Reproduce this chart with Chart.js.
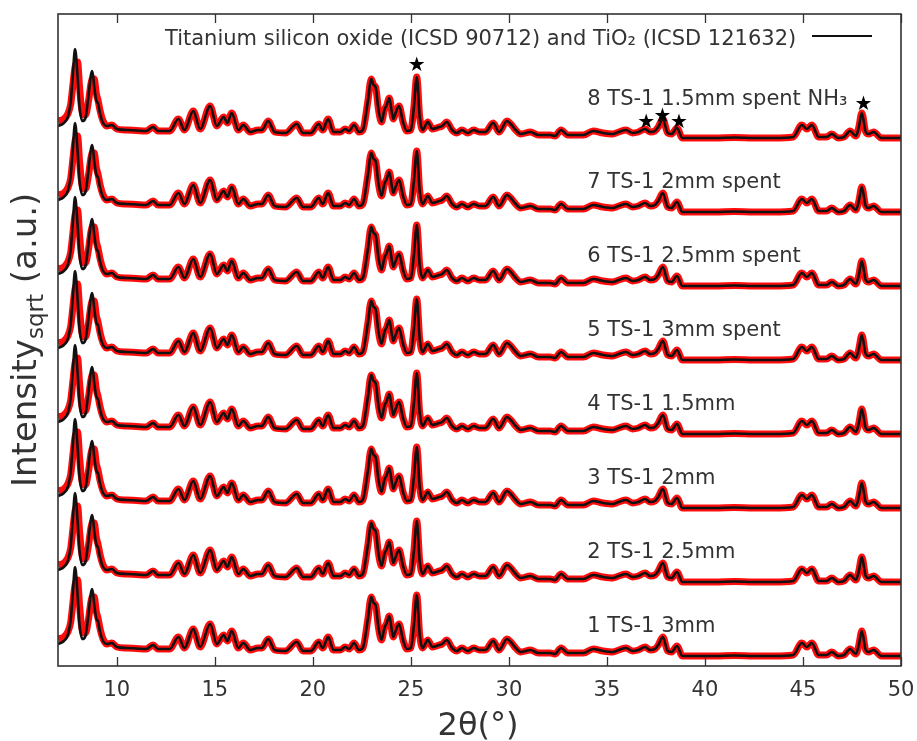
<!DOCTYPE html>
<html><head><meta charset="utf-8">
<script src="https://cdn.jsdelivr.net/npm/chart.js@4/dist/chart.umd.min.js"></script>
<style>html,body{margin:0;padding:0;background:#fff}#wrap{width:917px;height:741px;position:relative}</style>
</head><body><div id="wrap"><canvas id="c" width="917" height="741"></canvas></div>
<script>
// 2-theta grid (degrees)
const twoTheta = [7.0,7.3,7.5,7.65,7.75,7.87,8.0,8.1,8.25,8.4,8.55,8.68,8.75,8.85,8.95,9.05,9.15,9.3,
 9.5,9.75,10.0,10.5,11.0,11.5,11.85,12.1,12.7,13.14,13.45,13.9,14.25,14.76,15.1,15.45,15.64,15.86,16.2,16.45,16.8,17.2,17.4,17.72,18.05,18.6,19.18,19.5,19.9,20.3,20.5,20.78,21.05,21.4,21.65,21.85,22.1,22.35,22.55,22.8,22.98,23.1,23.2,23.35,23.5,23.65,23.77,23.9,24.1,24.2,24.4,24.6,24.8,25.0,25.15,25.3,25.45,25.6,25.86,26.1,26.45,26.6,26.83,27.1,27.35,27.6,27.9,28.2,28.5,28.8,29.2,29.5,29.9,30.1,30.3,30.6,31.1,31.5,32.1,32.35,32.66,33.0,33.4,33.8,34.3,34.8,35.3,35.6,35.98,36.3,36.6,36.95,37.2,37.45,37.62,37.85,38.1,38.3,38.57,38.85,39.5,40.5,41.5,42.5,43.5,44.5,44.94,45.2,45.45,45.8,46.2,46.47,46.8,47.1,47.4,47.7,47.85,48.0,48.2,48.35,48.6,49.0,49.5,50.0];
// observed (red) sqrt intensity, arbitrary units
const obsIntensity = [27,29,34,44,61,81,86,61,34,33,46,64,69,69,55,47,37,27,
 22,23,19,18,17.5,17,21,17,17,29,18,37,19,42,22,31,25,35,18,23,16,18,18,27,16,15,24,15,15,24,18,29,16,16,19,17,23,16,18,46,69,63,61,38,26,38,43,50,29,34,42,26,17,18,40,71,31,18,26,19,21,22,26,18,15,18,15,18,16,16,25,16,27,24,19,14,16,13,13,12,18,13,13,13,17,15,14,16,18,15,16,19,16,17,21,29,15,14,20,10,10,10,10.5,10,10,11,23,19,23,11,11,14,10,11,17,12,21,35,16,14,16,10,10,10];
// calculated fit (black) sqrt intensity, arbitrary units
const calcIntensity = [22,25,31,46,71,99,71,41,27,30,51,73,77,61,48,44,34,25,
 22,23,19,18,17.5,17,21,17,17,29,18,37,19,42,22,31,25,35,18,23,16,18,18,27,16,15,24,15,15,24,18,29,16,16,19,17,23,16,18,46,69,63,61,38,26,38,43,50,29,34,42,26,17,18,40,71,31,18,26,19,21,22,26,18,15,18,15,18,16,16,25,16,27,24,19,14,16,13,13,12,18,13,13,13,17,15,14,16,18,15,16,19,16,17,21,29,15,14,20,10,10,10,10.5,10,10,11,23,19,23,11,11,14,10,11,17,12,21,35,16,14,16,10,10,10];
// vertical stacking offset of each pattern
const traceOffsets = [0,74,148,222,296,370,444,518];
const traceNames = ['1 TS-1 3mm','2 TS-1 2.5mm','3 TS-1 2mm','4 TS-1 1.5mm','5 TS-1 3mm spent','6 TS-1 2.5mm spent','7 TS-1 2mm spent','8 TS-1 1.5mm spent NH\u2083'];
const xTicks = [10,15,20,25,30,35,40,45,50];
const legendText = 'Titanium silicon oxide (ICSD 90712) and TiO\u2082 (ICSD 121632)';
// reflection markers (2theta, height)
const starMarks = [[25.3,600],[37.0,543],[37.83,549],[38.68,543],[48.09,561]];

const FONT = "'DejaVu Sans', sans-serif";
const TXT = '#333';

const datasets = [];
traceOffsets.forEach((off, i) => {
  datasets.push({
    label: 'obs ' + traceNames[i],
    data: twoTheta.map((x, k) => ({x: x, y: obsIntensity[k] + off})),
    borderColor: 'rgba(255,0,0,0.95)', borderWidth: 7, pointRadius: 0,
    cubicInterpolationMode: 'monotone', order: 2, fill: false
  });
});
traceOffsets.forEach((off, i) => {
  datasets.push({
    label: 'calc ' + traceNames[i],
    data: twoTheta.map((x, k) => ({x: x, y: calcIntensity[k] + off})),
    borderColor: '#111', borderWidth: 2.6, pointRadius: 0,
    cubicInterpolationMode: 'monotone', order: 1, fill: false
  });
});

const deco = {
  id: 'deco',
  afterDraw(chart) {
    const ctx = chart.ctx, a = chart.chartArea, xs = chart.scales.x, ys = chart.scales.y;
    ctx.save();
    // frame
    ctx.strokeStyle = '#333'; ctx.lineWidth = 1.6;
    ctx.strokeRect(a.left, a.top, a.right - a.left, a.bottom - a.top);
    // inward ticks, bottom and top
    ctx.lineWidth = 1.3;
    xTicks.forEach(v => {
      const px = Math.round(xs.getPixelForValue(v)) + 0.5;
      ctx.beginPath();
      ctx.moveTo(px, a.bottom); ctx.lineTo(px, a.bottom - 9);
      ctx.moveTo(px, a.top); ctx.lineTo(px, a.top + 9);
      ctx.stroke();
    });
    // legend
    ctx.fillStyle = TXT;
    ctx.font = '21px ' + FONT;
    ctx.textAlign = 'left'; ctx.textBaseline = 'alphabetic';
    ctx.fillText(legendText, 165, 45);
    ctx.strokeStyle = '#111'; ctx.lineWidth = 2;
    ctx.beginPath(); ctx.moveTo(812, 36); ctx.lineTo(872, 36); ctx.stroke();
    // trace labels
    ctx.textBaseline = 'middle';
    traceNames.forEach((n, i) => {
      const y = ys.getPixelForValue(traceOffsets[i] + (i === 7 ? 48 : 39));
      ctx.fillText(n, xs.getPixelForValue(34.0), y);
    });
    // stars
    ctx.fillStyle = '#000';
    ctx.font = '20px ' + FONT;
    ctx.textAlign = 'center';
    starMarks.forEach(s => {
      ctx.fillText('\u2605', xs.getPixelForValue(s[0]), ys.getPixelForValue(s[1]));
    });
    // x title
    ctx.fillStyle = TXT;
    ctx.font = '32px ' + FONT;
    ctx.textAlign = 'center'; ctx.textBaseline = 'alphabetic';
    ctx.fillText('2\u03b8(\u00b0)', 478, 735);
    // y title
    ctx.translate(36, 487);
    ctx.rotate(-Math.PI / 2);
    ctx.textAlign = 'left';
    ctx.font = '34px ' + FONT;
    ctx.fillText('Intensity', 0, 0);
    let w = ctx.measureText('Intensity').width;
    ctx.font = '23px ' + FONT;
    ctx.fillText('sqrt', w, 7);
    w += ctx.measureText('sqrt').width;
    ctx.font = '34px ' + FONT;
    ctx.fillText(' (a.u.)', w, 0);
    ctx.restore();
  }
};

new Chart(document.getElementById('c'), {
  type: 'line',
  data: {datasets: datasets},
  options: {
    responsive: false, animation: false, devicePixelRatio: 1,
    layout: {padding: {left: 58, top: 14, right: 16, bottom: 0}},
    plugins: {legend: {display: false}, tooltip: {enabled: false}},
    scales: {
      x: {
        type: 'linear', min: 7, max: 50,
        grid: {display: false, drawTicks: false}, border: {display: false},
        ticks: {font: {family: FONT, size: 21}, color: TXT, padding: 12, maxRotation: 0},
        afterBuildTicks: s => { s.ticks = xTicks.map(v => ({value: v})); },
        afterFit: s => { s.height = 75; s.paddingLeft = 0; s.paddingRight = 0; }
      },
      y: {display: false, min: 0, max: 652}
    }
  },
  plugins: [deco]
});
</script>
</body></html>
